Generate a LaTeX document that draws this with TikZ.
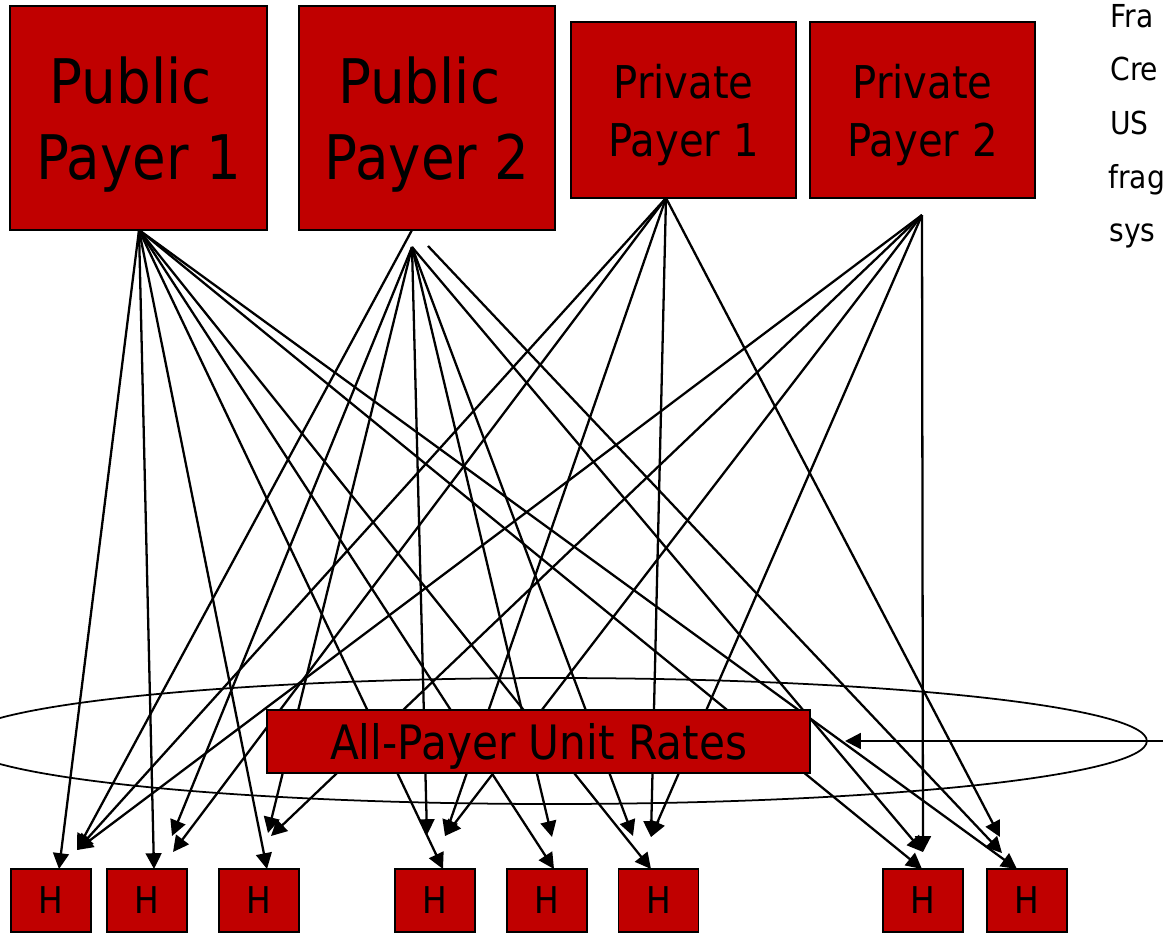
\documentclass[tikz,border=0pt]{standalone}
\usepackage{fontspec}
\setmainfont{DejaVu Sans}[FakeStretch=0.89]
\usetikzlibrary{arrows.meta}
\definecolor{boxred}{RGB}{192,0,0}
\begin{document}
\begin{tikzpicture}[x=0.02cm,y=-0.02cm,
  box/.style={draw=black,line width=1.1pt,fill=boxred,inner sep=0pt,align=center,text=black,text depth=0pt},
  arr/.style={line width=1.3pt,-{Triangle[length=9pt,width=9pt]}},
  note/.style={anchor=base west,inner sep=0pt,font=\fontsize{18}{22}\selectfont}
]
\clip (0,0) rectangle (1163,934);
% payer boxes
\node[box,minimum width=5.14cm,minimum height=4.48cm,font=\fontsize{35}{43}\selectfont] (pp1) at (138.5,118) {Public\hspace*{9pt}\\Payer 1};
\node[box,minimum width=5.12cm,minimum height=4.48cm,font=\fontsize{35}{43}\selectfont] (pp2) at (427,118) {Public\hspace*{9pt}\\Payer 2};
\node[box,minimum width=4.5cm,minimum height=3.52cm,font=\fontsize{25.7}{33}\selectfont] (pr1) at (683.5,110) {Private\\Payer 1};
\node[box,minimum width=4.5cm,minimum height=3.52cm,font=\fontsize{25.7}{33}\selectfont] (pr2) at (922.5,110) {Private\\Payer 2};
% side note (cut by the page edge)
\node[note] (n1) at (1110,27) {Fra};
\node[note] (n2) at (1110,80.7) {Cre};
\node[note] (n3) at (1110,134.4) {US};
\node[note] (n4) at (1108,188) {frag};
\node[note] (n5) at (1109,241.8) {sys};
% sources
\coordinate (s1) at (139,230);
\coordinate (s2a) at (412,230);
\coordinate (s2b) at (412,247);
\coordinate (s2c) at (428,246);
\coordinate (s3) at (666,198);
\coordinate (s4) at (922,215);
% targets
\coordinate (t1a) at (59,869);  \coordinate (t1b) at (77,850);
\coordinate (t2a) at (154,869); \coordinate (t2b) at (172,836); \coordinate (t2c) at (173,852);
\coordinate (t3a) at (267,869); \coordinate (t3b) at (268,833); \coordinate (t3c) at (271,836);
\coordinate (t4a) at (443,869); \coordinate (t4b) at (427,835); \coordinate (t4c) at (445,836);
\coordinate (t5a) at (554,869); \coordinate (t5b) at (552,837);
\coordinate (t6a) at (651,869); \coordinate (t6b) at (633,836); \coordinate (t6c) at (651,837);
\coordinate (t7a) at (922,869); \coordinate (t7b) at (923,852);
\coordinate (t8a) at (1017,869); \coordinate (t8b) at (1002,853); \coordinate (t8c) at (1000,837);
% Public Payer 1
\foreach \t in {t1a,t2a,t3a,t4a,t5a,t6a,t7a,t8a} \draw[arr] (s1) -- (\t);
% Public Payer 2
\draw[arr] (s2a) -- (t1b);
\foreach \t in {t2b,t3b,t4b,t5b,t6b,t7b} \draw[arr] (s2b) -- (\t);
\draw[arr] (s2c) -- (t8b);
% Private Payer 1
\foreach \t in {t1b,t2c,t4c,t6c,t8c} \draw[arr] (s3) -- (\t);
% Private Payer 2
\foreach \t in {t1b,t3c,t4c,t6c,t7b} \draw[arr] (s4) -- (\t);
% ellipse and all-payer box
\draw[line width=1pt] (553,741) ellipse [x radius=11.88cm, y radius=1.26cm];
\node[box,minimum width=10.86cm,minimum height=1.26cm,font=\fontsize{27}{32}\selectfont] (ap) at (538.5,741.5) {All-Payer Unit Rates};
\coordinate (rin) at (1180,741);
\coordinate (rtip) at (845,741);
\draw[arr] (rin) -- (rtip);
% hospitals
\foreach \n/\x in {h1/51,h2/147,h3/259,h4/435,h5/547,h6/658.5,h7/923,h8/1027}
  \node[box,minimum width=1.6cm,minimum height=1.26cm,font=\fontsize{21}{25}\selectfont] (\n) at (\x,900.5) {H};
\end{tikzpicture}
\end{document}
